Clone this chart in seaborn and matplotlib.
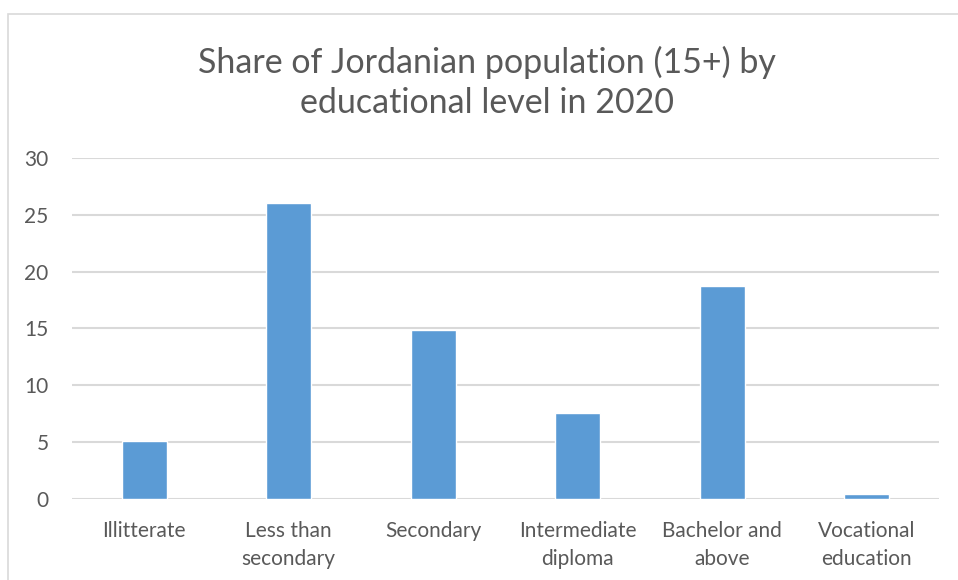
import matplotlib
matplotlib.use("Agg")
import matplotlib.pyplot as plt
import seaborn as sns
import pandas
from matplotlib.patches import Rectangle

categories = ["Illitterate", "Less than\nsecondary", "Secondary", "Intermediate\ndiploma",
              "Bachelor and\nabove", "Vocational\neducation"]
shares = [5.1, 26.0, 14.9, 7.6, 18.7, 0.4]
yticks = [0, 5, 10, 15, 20, 25, 30]

data = pandas.DataFrame({"level": categories, "share": shares})

sns.set_style("white")
plt.rcParams["font.family"] = ["Lato", "DejaVu Sans"]

fig = plt.figure(figsize=(9.58, 5.8), dpi=100)
ax = fig.add_axes([0.0752, 0.1397, 0.9048, 0.5879])

sns.barplot(data=data, x="level", y="share", color="#5B9BD5", width=0.31,
            saturation=1, ax=ax, zorder=3)

ax.set_ylim(0, 30)
ax.set_yticks(yticks)
ax.set_yticklabels([str(t) for t in yticks])
ax.set_xlim(-0.5, len(categories) - 0.5)
ax.yaxis.grid(True, color="#d9d9d9", linewidth=1.5, zorder=0)
ax.set_axisbelow(True)
for s in ax.spines.values():
    s.set_visible(False)
ax.tick_params(axis="y", length=0, pad=17, labelsize=15, labelcolor="#595959")
ax.tick_params(axis="x", length=0, pad=16, labelsize=15, labelcolor="#595959")
for lbl in ax.get_xticklabels():
    lbl.set_linespacing(1.5)
ax.set_xlabel("")
ax.set_ylabel("")

fig.text(0.508, 0.858, "Share of Jordanian population (15+) by\neducational level in 2020",
         ha="center", va="center", fontsize=24.5, color="#595959", linespacing=1.32)

# chart frame
fig.add_artist(Rectangle((8 / 958, -0.05), 1.2, 1 - 14 / 580 + 0.05, transform=fig.transFigure,
                         fill=False, edgecolor="#d9d9d9", linewidth=1.2))

fig.savefig("out.png", dpi=100)
